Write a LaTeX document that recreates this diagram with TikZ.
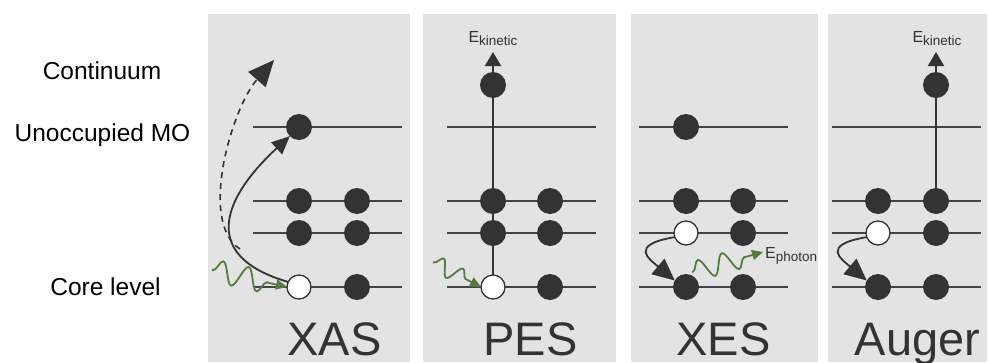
\documentclass[tikz,border=0pt]{standalone}
\usepackage{fontspec}
\setmainfont{Liberation Sans}
\usetikzlibrary{arrows.meta,decorations.pathmorphing}
\definecolor{panelgray}{HTML}{E3E3E3}
\definecolor{ink}{HTML}{333333}
\definecolor{linegray}{HTML}{444444}
\definecolor{wavegreen}{HTML}{557A40}
\begin{document}
\begin{tikzpicture}[x=1pt,y=-1pt,
  panel/.style={fill=panelgray,draw=none},
  level/.style={draw=linegray,line width=2pt},
  full/.style={circle,fill=ink,minimum size=26pt,inner sep=0pt,outer sep=0pt},
  hole/.style={circle,fill=white,draw=ink,line width=1.3pt,minimum size=24pt,inner sep=0pt,outer sep=0pt},
  lbl/.style={font=\fontsize{24.5}{26}\selectfont,text=black,anchor=base,inner sep=0pt},
  big/.style={font=\fontsize{47}{49}\selectfont,text=ink,anchor=base,inner sep=0pt},
  elabel/.style={font=\fontsize{16}{17}\selectfont,text=ink,inner sep=0pt},
  eline/.style={draw=ink,line width=2pt,-{Triangle[length=14pt,width=16pt]}},
  curvy/.style={draw=ink,line width=1.8pt,-{Triangle[length=22pt,width=20pt]}},
  xascurve/.style={draw=ink,line width=1.8pt,-{Triangle[length=18pt,width=16pt]}},
  dashcurve/.style={draw=ink,line width=1.6pt,dash pattern=on 6pt off 5pt,-{Triangle[length=26pt,width=23pt]}},
  photon/.style={draw=wavegreen,line width=1.8pt,decorate,
    decoration={snake,pre length=1pt,post length=8pt},
    -{Triangle[length=11pt,width=10pt]}}
]
\useasboundingbox (0,0) rectangle (989,362);

% panels
\fill[panel] (208,14) rectangle (410,362);
\fill[panel] (423,14) rectangle (616,362);
\fill[panel] (631,14) rectangle (818,362);
\fill[panel] (828,14) rectangle (987,362);

% left labels
\node[lbl] (lcont) at (102,79) {Continuum};
\node[lbl] (lunocc) at (102.5,141) {Unoccupied MO};
\node[lbl] (lcore) at (105.5,295) {Core level};

% level lines
\foreach \xa/\xb in {253/402,447/596,639/788,832/981}{
  \foreach \yy in {127,201,233,287}{
    \draw[level] (\xa,\yy) -- (\xb,\yy);
  }
}

% vertical electron paths (PES, Auger)
\coordinate (pestip) at (493,52);
\coordinate (augtip) at (936,52);
\node[hole] (peshole) at (493,287) {};
\draw[eline] (peshole.north) -- (pestip);
\node[full] (augb1) at (936,201) {};
\draw[eline] (augb1.center) -- (augtip);

% XAS
\node[full] (xasun) at (299,127) {};
\node[full] (xasa1) at (299,201) {};
\node[full] (xasa2) at (357,201) {};
\node[full] (xasb1) at (299,233) {};
\node[full] (xasb2) at (357,233) {};
\node[hole] (xashole) at (299,287) {};
\node[full] (xasc2) at (357,287) {};

% PES
\node[full] (pescont) at (493,85) {};
\node[full] (pesa1) at (493,201) {};
\node[full] (pesa2) at (550,201) {};
\node[full] (pesb1) at (493,233) {};
\node[full] (pesb2) at (550,233) {};
\node[full] (pesc2) at (550,287) {};

% XES
\node[full] (xesun) at (686,127) {};
\node[full] (xesa1) at (686,201) {};
\node[full] (xesa2) at (743,201) {};
\node[hole] (xeshole) at (686,233) {};
\node[full] (xesb2) at (743,233) {};
\node[full] (xesc1) at (686,287) {};
\node[full] (xesc2) at (743,287) {};

% Auger
\node[full] (augcont) at (936,85) {};
\node[full] (auga1) at (878,201) {};
\node[hole] (aughole) at (878,233) {};
\node[full] (augb2) at (936,233) {};
\node[full] (augc1) at (878,287) {};
\node[full] (augc2) at (936,287) {};

% XAS arrows
\coordinate (xasdash) at (240,249);
\draw[dashcurve] (xasdash) .. controls (198,222) and (232,108) .. (274,60);
\draw[xascurve] (xashole.155) .. controls (196,255) and (226,195) .. (xasun.225);

% XES / Auger relaxation arrows
\draw[curvy] (xeshole.200) .. controls +(-47,8) and +(-25,-21) .. (xesc1.150);
\draw[curvy] (aughole.200) .. controls +(-47,8) and +(-25,-21) .. (augc1.150);

% photons
\coordinate (xaswave) at (212,270);
\coordinate (peswave) at (433,262);
\coordinate (xeswave) at (692,272);
\coordinate (xeswend) at (763,252);
\draw[photon,decoration={segment length=26pt,amplitude=11pt}] (xaswave) -- (xashole.west);
\draw[photon,decoration={segment length=22pt,amplitude=8pt}] (peswave) -- (peshole.west);
\draw[photon,decoration={segment length=25pt,amplitude=10pt}] (xeswave) -- (xeswend);

% energy labels
\node[elabel,anchor=base] (peskin) at (493,42.5) {E\raisebox{-3.4pt}{\fontsize{13.5}{14}\selectfont kinetic}};
\node[elabel,anchor=base] (augkin) at (937,42.5) {E\raisebox{-3.4pt}{\fontsize{13.5}{14}\selectfont kinetic}};
\node[elabel,anchor=base west] (xesphot) at (765,258.5) {E\raisebox{-3.4pt}{\fontsize{13.5}{14}\selectfont photon}};

% method labels
\node[big] (txas) at (334.5,355) {XAS};
\node[big] (tpes) at (530.5,355) {PES};
\node[big] (txes) at (723.5,355) {XES};
\node[big] (taug) at (917.5,355) {Auger};
\end{tikzpicture}
\end{document}
